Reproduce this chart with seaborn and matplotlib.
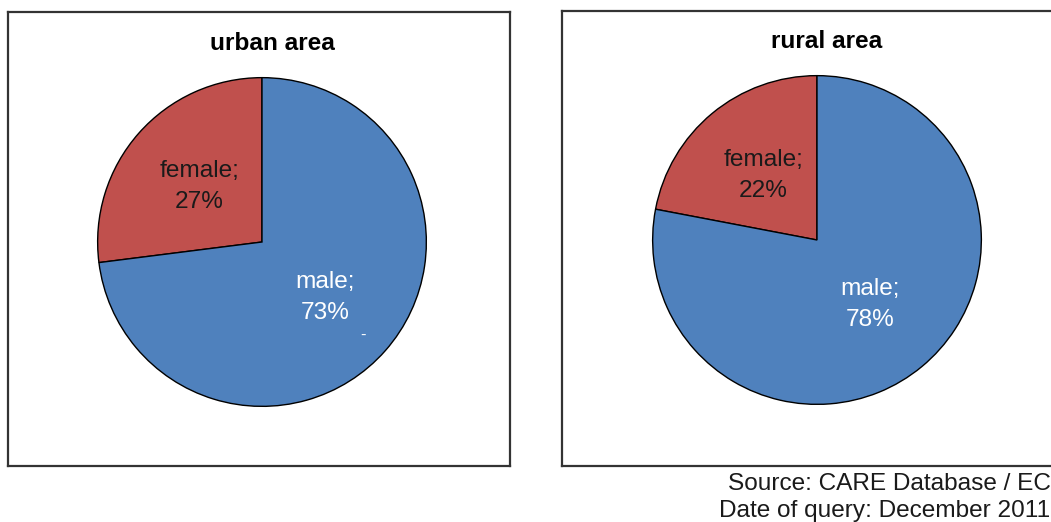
import matplotlib
matplotlib.use("Agg")
import matplotlib.pyplot as plt
import seaborn as sns

# data
areas = ["urban area", "rural area"]
genders = ["female", "male"]
urban_share = [27, 73]
rural_share = [22, 78]
shares = [urban_share, rural_share]
source_lines = ["Source: CARE Database / EC", "Date of query: December 2011"]

W, H = 1051, 522
FS = 17.6
colors = ["#C0504D", "#4F81BD"]
text_colors = ["#1a1a1a", "white"]


def px(x0, y0, x1, y1):
    # pixel box (top-left origin) -> figure fraction rect
    return [x0 / W, (H - y1) / H, (x1 - x0) / W, (y1 - y0) / H]


def main():
    sns.set_theme(style="white")
    plt.rcParams["font.family"] = ["Liberation Sans", "DejaVu Sans"]

    fig = plt.figure(figsize=(W / 100, H / 100), dpi=100)

    boxes = [(8, 12, 510, 466), (562, 11, 1064, 466)]
    pies = [(96, 76, 428, 408), (651, 74, 983, 406)]
    titles = [(272, 43), (827, 42)]

    for i in range(2):
        frame = fig.add_axes(px(*boxes[i]))
        frame.set_xticks([])
        frame.set_yticks([])
        for sp in frame.spines.values():
            sp.set_color("#333333")
            sp.set_linewidth(1.6)
        frame.set_facecolor("white")

        ax = fig.add_axes(px(*pies[i]))
        wedges, _, autotexts = ax.pie(
            shares[i], colors=colors, startangle=90, counterclock=True,
            autopct="%d%%", pctdistance=0.51,
            wedgeprops={"edgecolor": "black", "linewidth": 1.0},
        )
        for t, g, v, c in zip(autotexts, genders, shares[i], text_colors):
            t.set_text(f"{g};\n{v}%")
            t.set_fontsize(FS)
            t.set_color(c)
            t.set_linespacing(1.5)
        ax.set_xlim(-1.01, 1.01)
        ax.set_ylim(-1.01, 1.01)
        ax.set_aspect("equal")
        ax.axis("off")

        fig.text(titles[i][0] / W, 1 - titles[i][1] / H, areas[i],
                 ha="center", va="center", fontsize=FS, fontweight="bold",
                 color="black")

    # small stray mark in the urban pie
    fig.text(363 / W, 1 - 335 / H, "-", ha="center", va="center",
             fontsize=12, color="white")

    fig.text(1051 / W, 1 - 484 / H, source_lines[0], ha="right", va="center",
             fontsize=FS, color="#1a1a1a")
    fig.text(1050 / W, 1 - 511 / H, source_lines[1], ha="right", va="center",
             fontsize=FS, color="#1a1a1a")

    fig.savefig("out.png", dpi=100, facecolor="white")


if __name__ == "__main__":
    main()
